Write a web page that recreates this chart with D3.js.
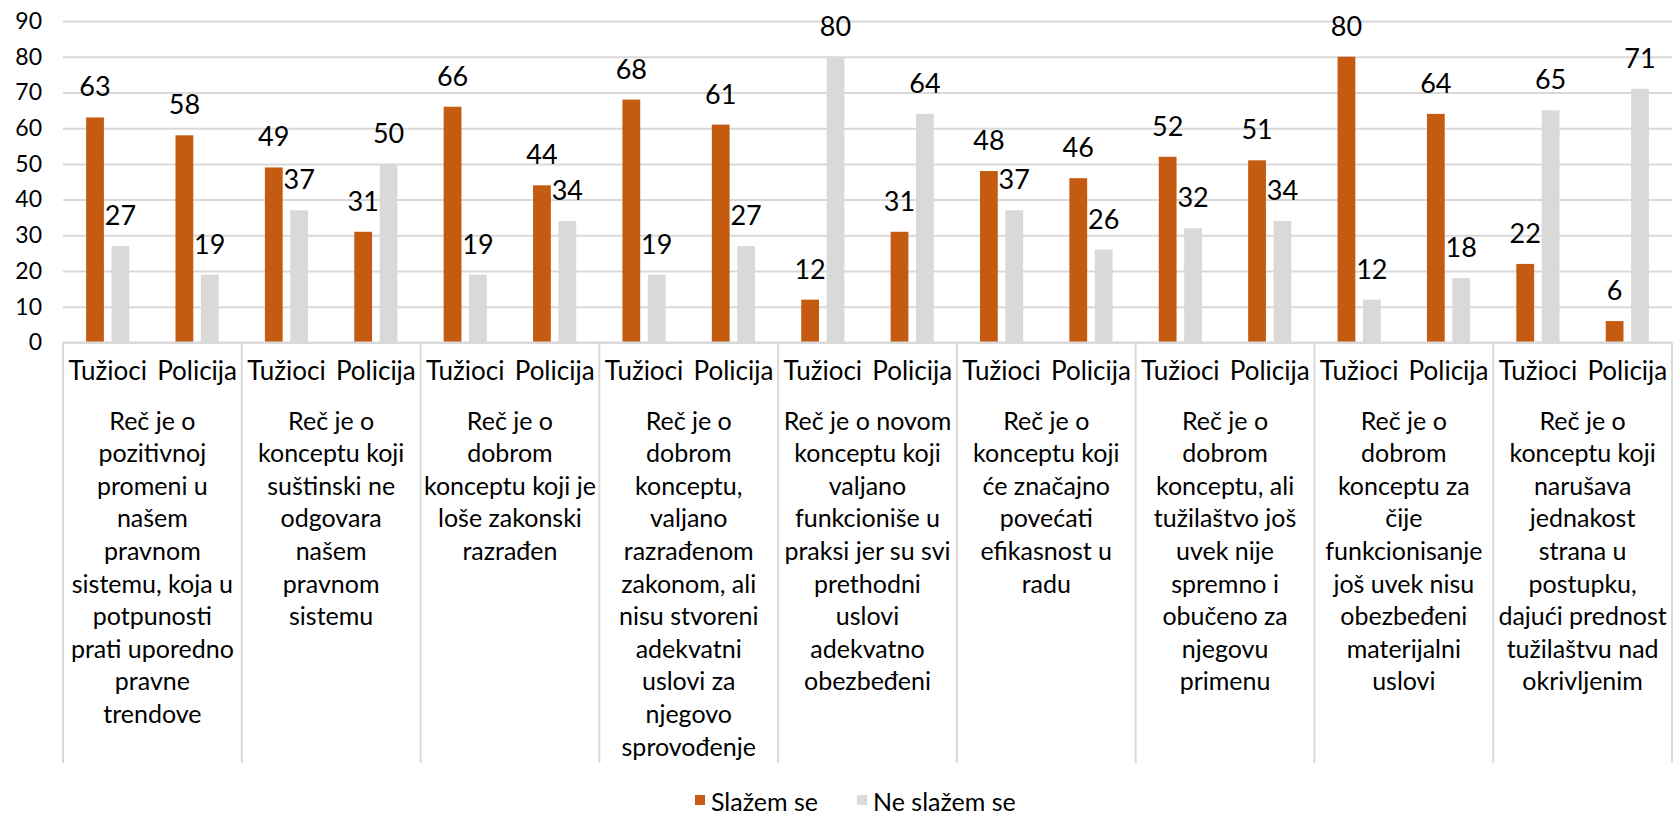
<!DOCTYPE html>
<html>
<head>
<meta charset="utf-8">
<script src="https://cdn.jsdelivr.net/npm/d3@7"></script>
<style>
  body { margin: 0; background: #fff; }
  svg text { font-family: Lato, "Open Sans", sans-serif; fill: #000; }
</style>
</head>
<body>
<svg id="chart" width="1675" height="816"></svg>
<script>
// category labels, already broken into lines as in the original
var categories = [
    ['Reč je o', 'pozitivnoj', 'promeni u', 'našem', 'pravnom', 'sistemu, koja u', 'potpunosti', 'prati uporedno', 'pravne', 'trendove'],
    ['Reč je o', 'konceptu koji', 'suštinski ne', 'odgovara', 'našem', 'pravnom', 'sistemu'],
    ['Reč je o', 'dobrom', 'konceptu koji je', 'loše zakonski', 'razrađen'],
    ['Reč je o', 'dobrom', 'konceptu,', 'valjano', 'razrađenom', 'zakonom, ali', 'nisu stvoreni', 'adekvatni', 'uslovi za', 'njegovo', 'sprovođenje'],
    ['Reč je o novom', 'konceptu koji', 'valjano', 'funkcioniše u', 'praksi jer su svi', 'prethodni', 'uslovi', 'adekvatno', 'obezbeđeni'],
    ['Reč je o', 'konceptu koji', 'će značajno', 'povećati', 'efikasnost u', 'radu'],
    ['Reč je o', 'dobrom', 'konceptu, ali', 'tužilaštvo još', 'uvek nije', 'spremno i', 'obučeno za', 'njegovu', 'primenu'],
    ['Reč je o', 'dobrom', 'konceptu za', 'čije', 'funkcionisanje', 'još uvek nisu', 'obezbeđeni', 'materijalni', 'uslovi'],
    ['Reč je o', 'konceptu koji', 'narušava', 'jednakost', 'strana u', 'postupku,', 'dajući prednost', 'tužilaštvu nad', 'okrivljenim']
];

var groups = ['Tužioci', 'Policija'];
var seriesNames = ['Slažem se', 'Ne slažem se'];

// values per category: [Tužioci, Policija]
var slazemSe = [[63, 58], [49, 31], [66, 44], [68, 61], [12, 31], [48, 46], [52, 51], [80, 64], [22, 6]];
var neSlazemSe = [[27, 19], [37, 50], [19, 34], [19, 27], [80, 64], [37, 26], [32, 34], [12, 18], [65, 71]];

var yTicks = [0, 10, 20, 30, 40, 50, 60, 70, 80, 90];

var colors = { 'Slažem se': '#c55a11', 'Ne slažem se': '#d9d9d9' };
var gridColor = '#d9d9d9';

var plotLeft = 63, plotRight = 1672, plotTop = 21, plotBase = 342.5, sepBottom = 763;

var svg = d3.select('#chart');

var x0 = d3.scaleBand().domain(d3.range(categories.length)).range([plotLeft, plotRight]);
var x1 = d3.scaleBand().domain(groups).range([0, x0.bandwidth()]);
var x2 = d3.scaleBand().domain(seriesNames).range([0, x1.bandwidth()])
    .paddingInner(0.3).paddingOuter(0.91);
var y = d3.scaleLinear().domain([0, 90]).range([plotBase, plotTop]);

// gridlines + y tick labels
var yAxis = svg.append('g')
    .attr('transform', 'translate(' + plotLeft + ',0)')
    .call(d3.axisLeft(y).tickValues(yTicks).tickSize(-(plotRight - plotLeft)).tickPadding(21));
yAxis.select('.domain').remove();
yAxis.selectAll('line').attr('stroke', gridColor).attr('stroke-width', 2);
yAxis.selectAll('text').attr('font-size', 23).attr('fill', '#000')
    .style('font-family', 'Lato, sans-serif');

// flatten into rows
var rows = [];
categories.forEach(function(c, i) {
    groups.forEach(function(g, j) {
        rows.push({ cat: i, group: g, series: 'Slažem se', value: slazemSe[i][j] });
        rows.push({ cat: i, group: g, series: 'Ne slažem se', value: neSlazemSe[i][j] });
    });
});

function barX(d) {
    return x0(d.cat) + x1(d.group) + x2(d.series);
}

svg.append('g').selectAll('rect')
    .data(rows)
    .enter().append('rect')
    .attr('x', barX)
    .attr('y', function(d) { return y(d.value); })
    .attr('width', x2.bandwidth())
    .attr('height', function(d) { return plotBase - y(d.value); })
    .attr('fill', function(d) { return colors[d.series]; });

svg.append('g').selectAll('text')
    .data(rows)
    .enter().append('text')
    .attr('x', function(d) { return barX(d) + x2.bandwidth() / 2; })
    .attr('y', function(d) { return y(d.value) - 21; })
    .attr('text-anchor', 'middle')
    .attr('font-size', 27)
    .text(function(d) { return d.value; });

// x axis line and category separators
svg.append('line')
    .attr('x1', plotLeft).attr('x2', plotRight)
    .attr('y1', plotBase).attr('y2', plotBase)
    .attr('stroke', gridColor).attr('stroke-width', 2);

svg.append('g').selectAll('line')
    .data(d3.range(categories.length + 1))
    .enter().append('line')
    .attr('x1', function(i) { return i < categories.length ? x0(i) : plotRight; })
    .attr('x2', function(i) { return i < categories.length ? x0(i) : plotRight; })
    .attr('y1', plotBase).attr('y2', sepBottom)
    .attr('stroke', gridColor).attr('stroke-width', 2);

// sub labels
var sub = [];
categories.forEach(function(c, i) {
    groups.forEach(function(g) { sub.push({ cat: i, group: g }); });
});
svg.append('g').selectAll('text')
    .data(sub)
    .enter().append('text')
    .attr('x', function(d) { return x0(d.cat) + x1(d.group) + x1.bandwidth() / 2; })
    .attr('y', 380)
    .attr('text-anchor', 'middle')
    .attr('font-size', 26)
    .text(function(d) { return d.group; });

// category labels
var catText = svg.append('g').selectAll('text')
    .data(categories)
    .enter().append('text')
    .attr('text-anchor', 'middle')
    .attr('font-size', 25);
catText.each(function(lines, i) {
    var t = d3.select(this);
    lines.forEach(function(line, k) {
        t.append('tspan')
            .attr('x', x0(i) + x0.bandwidth() / 2)
            .attr('y', 429.5 + k * 32.6)
            .text(line);
    });
});

// legend
var legendX = [695, 857];
var legend = svg.append('g').selectAll('g')
    .data(seriesNames)
    .enter().append('g')
    .attr('transform', function(d, i) { return 'translate(' + legendX[i] + ',795)'; });
legend.append('rect')
    .attr('width', 10).attr('height', 10)
    .attr('fill', function(d) { return colors[d]; });
legend.append('text')
    .attr('x', 16).attr('y', 16)
    .attr('font-size', 25)
    .text(function(d) { return d; });
</script>
</body>
</html>
